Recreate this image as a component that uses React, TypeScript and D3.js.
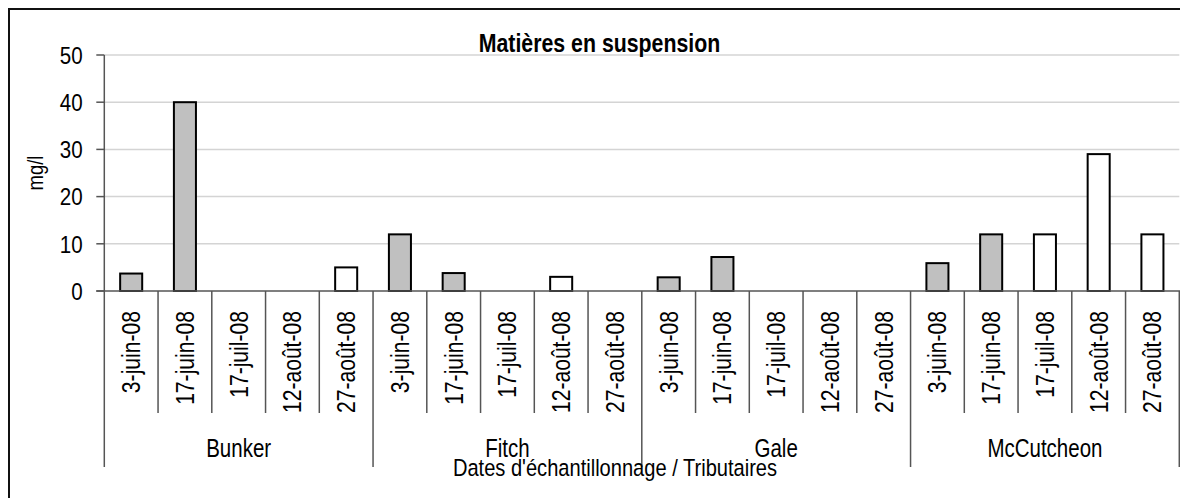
import React from 'react';
import * as d3 from 'd3';

const groups = ['Bunker', 'Fitch', 'Gale', 'McCutcheon'];
const dates = ['3-juin-08', '17-juin-08', '17-juil-08', '12-août-08', '27-août-08'];
const bunker = [3.7, 40, null, null, 5];
const fitch = [12, 3.8, null, 3, null];
const gale = [2.9, 7.2, null, null, null];
const mccutcheon = [5.9, 12, 12, 29, 12];
const yTicks = [0, 10, 20, 30, 40, 50];
const title = 'Matières en suspension';
const yTitle = 'mg/l';
const xTitle = "Dates d'échantillonnage / Tributaires";

const seriesByGroup = [bunker, fitch, gale, mccutcheon];

const W = 1172;
const H = 490;
const FONT = '"Liberation Sans Narrow", "Arial Narrow", "Liberation Sans", Arial, sans-serif';
const NARROW = 0.82;

function NText(props: {
  x: number;
  y: number;
  size: number;
  anchor?: string;
  rotate?: number;
  f?: number;
  bold?: boolean;
  dy?: string;
  children: React.ReactNode;
}) {
  const { x, y, size, anchor = 'start', rotate = 0, f = NARROW, bold = false, dy, children } = props;
  return (
    <text
      transform={`translate(${x},${y})${rotate ? ` rotate(${rotate})` : ''} scale(${f},1)`}
      textAnchor={anchor}
      fontSize={size}
      fontWeight={bold ? 'bold' : 'normal'}
      dy={dy}
      fill="#000"
    >
      {children}
    </text>
  );
}

export default function App() {
  const left = 96.3;
  const right = 1171.3;
  const top = 47;
  const bottom = 283;

  const cats: { group: string; date: string; di: number; gi: number; v: number | null; key: string }[] = [];
  groups.forEach((g, gi) =>
    dates.forEach((d, di) => cats.push({ group: g, date: d, di, gi, v: seriesByGroup[gi][di], key: g + '|' + d }))
  );

  const x = d3.scaleBand<string>().domain(cats.map((c) => c.key)).range([left, right]).padding(0);
  const y = d3.scaleLinear().domain([0, 50]).range([bottom, top]);
  const bw = x.bandwidth();
  const barW = bw * 0.41;

  return (
    <svg
      width={W}
      height={H}
      style={{ position: 'absolute', left: 8, top: 8, display: 'block', overflow: 'hidden' }}
      fontFamily={FONT}
    >
      <rect x={0} y={0} width={W} height={H} fill="#fff" />
      <rect x={1} y={1} width={W + 50} height={H + 50} fill="none" stroke="#111" strokeWidth={2} />

      {/* gridlines */}
      {yTicks.filter((t) => t > 0).map((t) => (
        <line key={'g' + t} x1={left} x2={right} y1={y(t)} y2={y(t)} stroke="#d4d4d4" strokeWidth={1.5} />
      ))}

      {/* title */}
      <NText x={591.5} y={43.7} size={26} anchor="middle" bold>
        {title}
      </NText>

      {/* y axis */}
      <line x1={left} x2={left} y1={top} y2={bottom} stroke="#555" strokeWidth={1.5} />
      {yTicks.map((t) => (
        <g key={'t' + t}>
          <line x1={left - 8} x2={left} y1={y(t)} y2={y(t)} stroke="#555" strokeWidth={1.5} />
          <NText x={74.7} y={y(t)} dy="0.36em" size={24.5} anchor="end" f={0.84}>
            {t}
          </NText>
        </g>
      ))}
      <NText x={27} y={(top + bottom) / 2} rotate={-90} anchor="middle" dy="0.36em" size={22.5}>
        {yTitle}
      </NText>

      {/* bars */}
      {cats.map((c) =>
        c.v == null ? null : (
          <rect
            key={'b' + c.key}
            x={(x(c.key) as number) + (bw - barW) / 2}
            y={y(c.v)}
            width={barW}
            height={y(0) - y(c.v)}
            fill={c.di < 2 ? '#c0c0c0' : '#ffffff'}
            stroke="#000"
            strokeWidth={2}
          />
        )
      )}

      {/* x axis */}
      <line x1={left - 8} x2={right + 2} y1={bottom} y2={bottom} stroke="#555" strokeWidth={1.5} />
      {cats.map((c) => {
        const x0 = x(c.key) as number;
        const isGroupStart = c.di === 0;
        return (
          <line
            key={'d' + c.key}
            x1={x0}
            x2={x0}
            y1={bottom}
            y2={isGroupStart ? 459 : 405}
            stroke="#555"
            strokeWidth={1.5}
          />
        );
      })}
      <line x1={right} x2={right} y1={bottom} y2={459} stroke="#555" strokeWidth={1.5} />

      {/* date labels */}
      {cats.map((c) => {
        const cx = (x(c.key) as number) + bw / 2;
        return (
          <NText key={'l' + c.key} x={cx} y={303} rotate={-90} anchor="end" dy="0.36em" size={25} f={0.845}>
            {c.date}
          </NText>
        );
      })}

      {/* group labels */}
      {groups.map((g) => {
        const a = x(g + '|' + dates[0]) as number;
        const b = (x(g + '|' + dates[dates.length - 1]) as number) + bw;
        return (
          <NText key={'gl' + g} x={(a + b) / 2} y={449} size={25} anchor="middle">
            {g}
          </NText>
        );
      })}

      <NText x={607} y={468} size={24.5} anchor="middle">
        {xTitle}
      </NText>
    </svg>
  );
}
